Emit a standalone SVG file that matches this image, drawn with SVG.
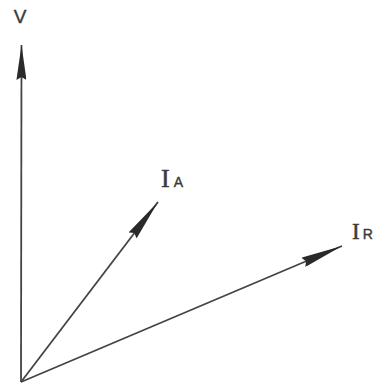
<svg xmlns="http://www.w3.org/2000/svg" width="380" height="389" viewBox="0 0 380 389">
<style>
.vec{stroke:#444;stroke-width:1.8;fill:none}
.lbl{fill:#3a3a3a;stroke:#3a3a3a;stroke-width:0.4;font-family:"Liberation Sans",Arial,sans-serif}
.sym{fill:#3a3a3a;stroke:#3a3a3a;stroke-width:0.5;font-family:"Liberation Serif","Times New Roman",serif}
</style>
<defs>
<marker id="headV" markerUnits="userSpaceOnUse" viewBox="0 -5 35 10" refX="35" refY="0" markerWidth="35" markerHeight="10" orient="auto">
<path d="M0,-5 L35,0 L0,5 L3,0 Z" fill="#2a2a2a"/>
</marker>
<marker id="headI" markerUnits="userSpaceOnUse" viewBox="0 -5 42 10" refX="42" refY="0" markerWidth="42" markerHeight="10" orient="auto">
<path d="M0,-5 L42,0 L0,5 L3,0 Z" fill="#2a2a2a"/>
</marker>
</defs>
<rect width="380" height="389" fill="#fff"/>
<g id="connectors">
<line id="vecV" class="vec" x1="21" y1="382" x2="21.5" y2="45" marker-end="url(#headV)"/>
<line id="vecIA" class="vec" x1="21" y1="382" x2="158" y2="202" marker-end="url(#headI)"/>
<line id="vecIR" class="vec" x1="21" y1="382" x2="342" y2="246" marker-end="url(#headI)"/>
</g>
<g id="labelV"><text class="lbl" x="20" y="23" font-size="19" text-anchor="middle">V</text></g>
<g id="labelIA"><text x="161" y="187"><tspan class="sym" font-size="26">I</tspan><tspan class="lbl" font-size="14" dx="4">A</tspan></text></g>
<g id="labelIR"><text x="352" y="239"><tspan class="sym" font-size="23">I</tspan><tspan class="lbl" font-size="14" dx="3">R</tspan></text></g>
</svg>
